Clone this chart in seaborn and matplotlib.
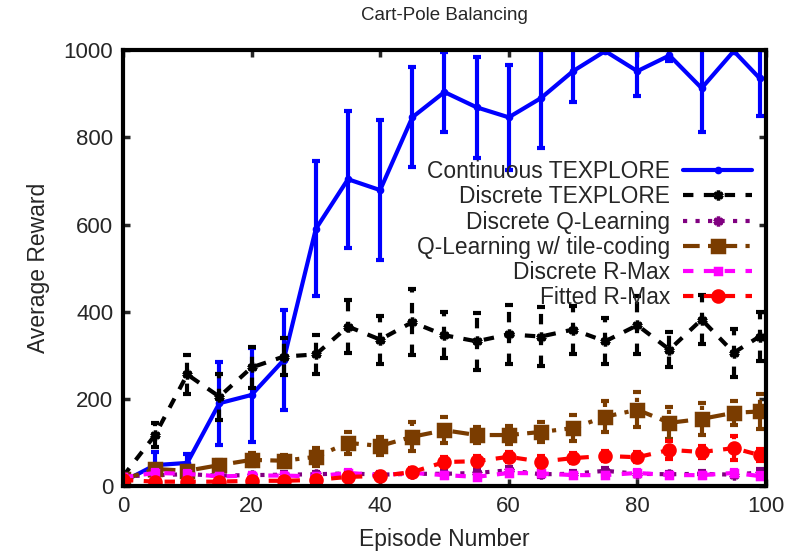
import numpy as np
import pandas as pd
import matplotlib
matplotlib.use('Agg')
import matplotlib.pyplot as plt
import seaborn as sns

sns.set_style('ticks')
plt.rcParams['font.family'] = ['Liberation Sans', 'DejaVu Sans']

# episodes (averaged blocks of 5, last point at 99)
episodes = [0, 5, 10, 15, 20, 25, 30, 35, 40, 45, 50, 55, 60, 65, 70, 75, 80, 85, 90, 95, 99]

cont_tex = [10, 48, 53, 190, 209, 289, 590, 704, 679, 846, 904, 869, 846, 890, 952, 998, 952, 988, 913, 998, 936]
cont_tex_err = [5, 30, 20, 95, 108, 115, 155, 157, 160, 115, 92, 116, 120, 115, 70, 2, 58, 12, 100, 2, 87]

disc_tex = [22, 117, 256, 205, 272, 297, 302, 366, 336, 376, 346, 332, 348, 343, 359, 332, 369, 313, 382, 306, 343]
disc_tex_err = [8, 28, 45, 53, 48, 43, 45, 60, 55, 75, 53, 65, 68, 68, 55, 53, 66, 40, 57, 55, 56]

disc_q = [22, 25, 27, 24, 25, 26, 27, 29, 26, 28, 28, 30, 36, 27, 28, 35, 28, 27, 28, 26, 31]
disc_q_err = [5, 6, 6, 5, 6, 6, 6, 6, 6, 6, 6, 6, 7, 6, 6, 7, 6, 6, 6, 6, 7]

tile_q = [15, 39, 35, 48, 60, 58, 67, 99, 92, 113, 128, 117, 117, 124, 133, 159, 175, 145, 154, 168, 171]
tile_q_err = [5, 10, 10, 12, 15, 14, 20, 25, 21, 33, 30, 18, 20, 23, 29, 36, 40, 36, 37, 27, 40]

disc_rmax = [20, 30, 28, 22, 24, 24, 22, 30, 25, 30, 25, 21, 30, 29, 25, 25, 30, 25, 25, 30, 23]
disc_rmax_err = [5, 6, 6, 5, 6, 6, 5, 6, 6, 6, 6, 5, 6, 6, 6, 6, 6, 6, 6, 6, 6]

fit_rmax = [14, 10, 10, 10, 12, 12, 14, 21, 23, 32, 55, 57, 67, 56, 64, 69, 66, 83, 78, 87, 71]
fit_rmax_err = [5, 5, 5, 5, 5, 5, 6, 8, 8, 10, 12, 12, 12, 12, 12, 12, 12, 20, 14, 28, 14]

labels = ['Continuous TEXPLORE', 'Discrete TEXPLORE', 'Discrete Q-Learning',
          'Q-Learning w/ tile-coding', 'Discrete R-Max', 'Fitted R-Max']

series = [
    (cont_tex, cont_tex_err, '#0000ff', '-', 'o', 3),
    (disc_tex, disc_tex_err, '#000000', (0, (2.5, 2.5)), (6, 2, 0), 7),
    (disc_q, disc_q_err, '#800080', (0, (1, 2)), (6, 2, 0), 7),
    (tile_q, tile_q_err, '#7a3c00', (0, (4, 2, 1, 2)), 's', 8),
    (disc_rmax, disc_rmax_err, '#ff00ff', (0, (2.5, 2.5)), 's', 5),
    (fit_rmax, fit_rmax_err, '#ff0000', (0, (2.5, 2.5)), 'o', 8),
]

fig, ax = plt.subplots(figsize=(7.88, 5.58), dpi=100)
fig.subplots_adjust(left=0.156, right=0.972, bottom=0.129, top=0.910)

for (vals, errs, col, ls, mk, ms), lab in zip(series, labels):
    sns.lineplot(x=episodes, y=vals, ax=ax, color=col, linestyle=ls, linewidth=3,
                 marker=mk, markersize=ms, markeredgewidth=2.5, markeredgecolor=col,
                 markerfacecolor=col, label=lab, errorbar=None)
    eb = ax.errorbar(episodes, vals, yerr=errs, fmt='none', ecolor=col,
                     elinewidth=3, capsize=3, capthick=3, label='_nolegend_')
    eb[2][0].set_linestyle(ls)

ax.set_xlim(0, 100)
ax.set_ylim(0, 1000)
ax.set_xticks([0, 20, 40, 60, 80, 100])
ax.set_yticks([0, 200, 400, 600, 800, 1000])
ax.tick_params(direction='in', top=True, right=True, length=5, width=2.5,
               labelsize=16, pad=7)
for sp in ax.spines.values():
    sp.set_linewidth(3)
    sp.set_color('black')

ax.set_xlabel('Episode Number', fontsize=16.5, labelpad=8)
ax.set_ylabel('Average Reward', fontsize=16.5, labelpad=10)
ax.set_title('Cart-Pole Balancing', fontsize=13.5, pad=22)

leg = ax.legend(loc='upper right', bbox_to_anchor=(0.978, 0.748), frameon=False,
                markerfirst=False, fontsize=16.4, handlelength=3.0, handletextpad=0.6,
                labelspacing=0.1, borderpad=0, borderaxespad=0)

fig.savefig('out.png', dpi=100)
